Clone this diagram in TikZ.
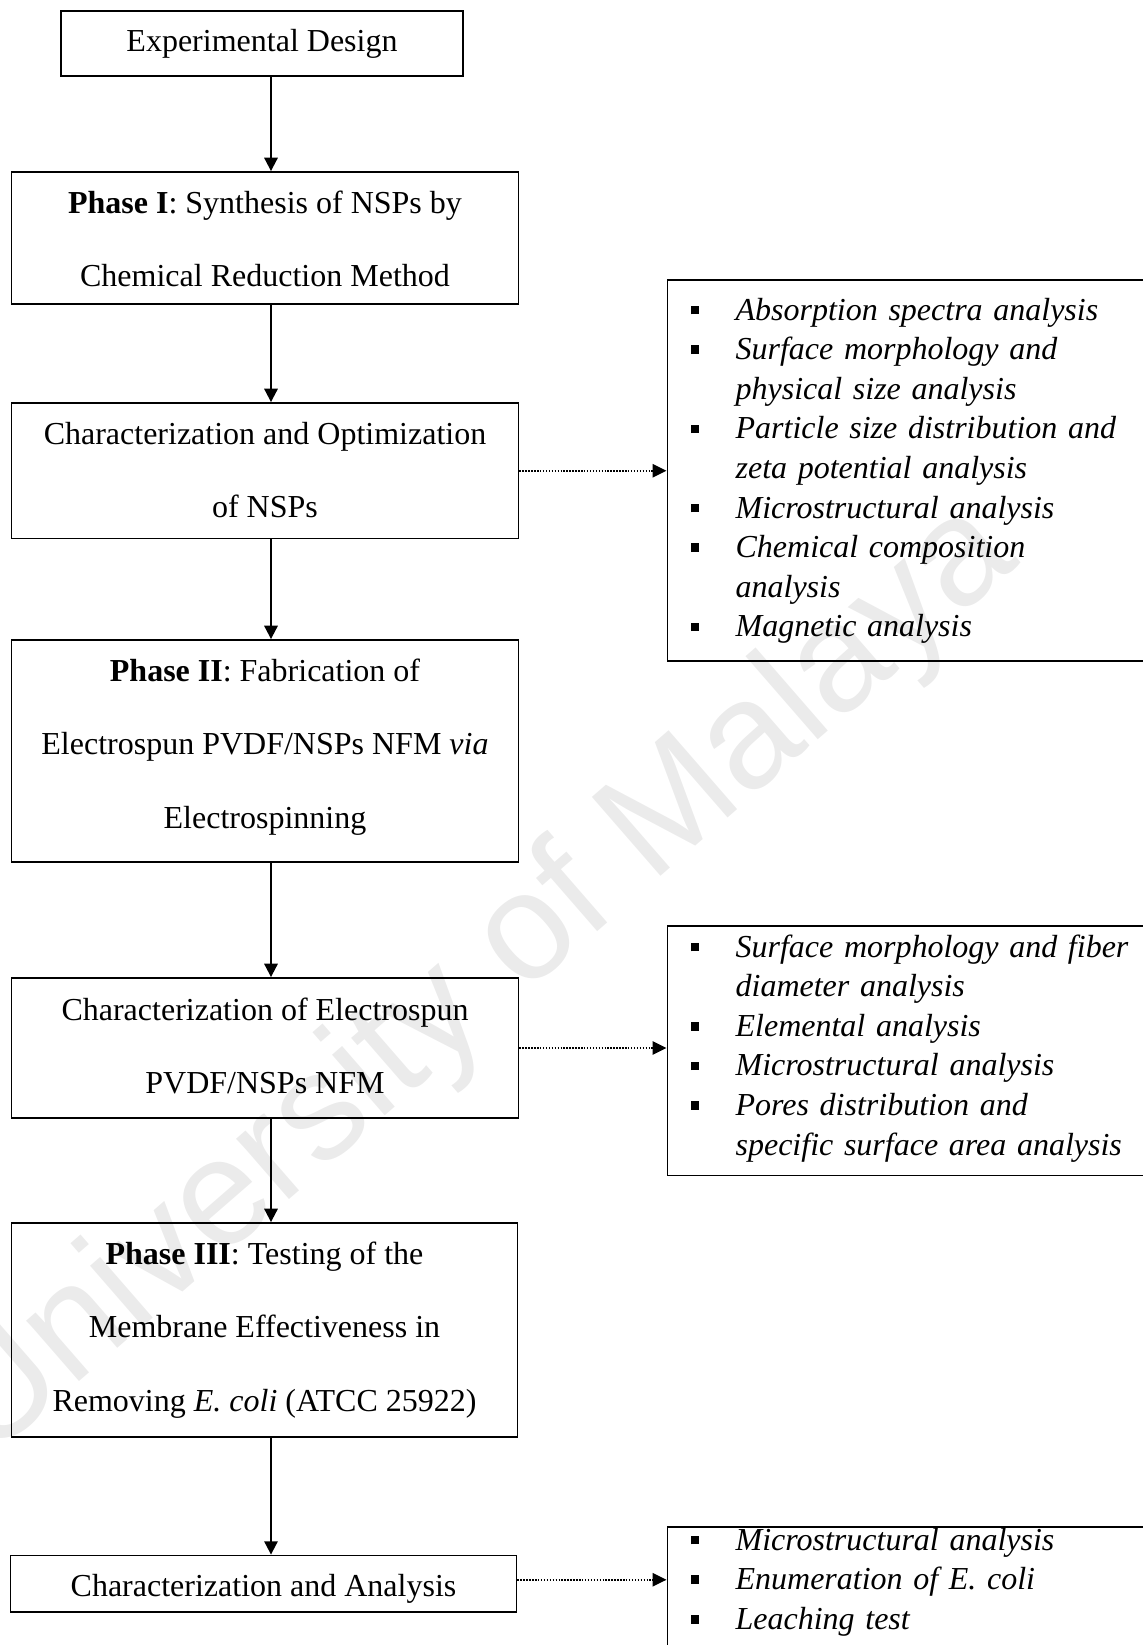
\documentclass[tikz,border=0pt]{standalone}
\usepackage{fontspec}
\setmainfont{Liberation Serif}
\newfontfamily\wmfont{Liberation Sans}
\usetikzlibrary{arrows.meta,fit,calc}
\newcommand\wbul{\makebox[16.9pt][l]{\raisebox{2.1pt}{\rule{3.2pt}{3.2pt}}}}
\newcommand\wind{\hspace*{16.9pt}}
\newcommand\boxtxt[1]{\begin{tabular}{@{}c@{}}#1\end{tabular}}
\begin{document}
\begin{tikzpicture}[x=0.375pt,y=-0.375pt,
  box/.style={draw, line width=0.7pt, inner sep=0pt},
  boxtext/.style={inner sep=0pt, anchor=center, font=\fontsize{12}{14.4}\selectfont},
  flow/.style={line width=0.75pt, -{Triangle[length=5pt,width=5pt]}},
  side/.style={line width=0.8pt, dash pattern=on 0.55pt off 0.55pt, -{Triangle[length=5.2pt,width=4.9pt]}},
  sidebox/.style={draw, line width=0.7pt, inner sep=0pt},
  list/.style={anchor=base west, inner sep=0pt, text width=200pt, align=left, font=\fontsize{12}{14.85}\selectfont\itshape}]
\useasboundingbox (0,0) rectangle (1143,1645);
\clip (0,0) rectangle (1143,1645);
% watermark
\node[rotate=41, anchor=base, text=black!8, font=\wmfont\fontsize{57}{57}\selectfont, inner sep=0pt] (wm) at (505,1012) {University of Malaya};
% main flow boxes
\node[box, fit={(61,11)(463,76)}] (ed) {};
\node[box, fit={(11.5,172)(518.5,304)}] (p1) {};
\node[box, fit={(11.5,403)(518.5,538.5)}] (co) {};
\node[box, fit={(11.5,640)(518.5,862)}] (p2) {};
\node[box, fit={(11.5,978)(518.5,1118)}] (ce) {};
\node[box, fit={(11.5,1223)(517.5,1437)}] (p3) {};
\node[box, fit={(10.5,1555.5)(516.5,1612)}] (ca) {};
\node[boxtext] (edt) at (ed.center) {\boxtxt{Experimental Design}};
\node[boxtext, yshift=-1.5pt] (p1t) at (p1.center) {\boxtxt{\textbf{Phase I}: Synthesis of NSPs by\\[13.1pt]Chemical Reduction Method}};
\node[boxtext, yshift=-1pt] (cot) at (co.center) {\boxtxt{Characterization and Optimization\\[13.1pt]of NSPs}};
\node[boxtext, yshift=1.5pt] (p2t) at (p2.center) {\boxtxt{\textbf{Phase II}: Fabrication of\\[13.1pt]Electrospun PVDF/NSPs NFM \textit{via}\\[13.1pt]Electrospinning}};
\node[boxtext, yshift=-0.5pt] (cet) at (ce.center) {\boxtxt{Characterization of Electrospun\\[13.1pt]PVDF/NSPs NFM}};
\node[boxtext] (p3t) at (p3.center) {\boxtxt{\textbf{Phase III}: Testing of the\\[13.1pt]Membrane Effectiveness in\\[13.1pt]Removing \textit{E. coli} (ATCC 25922)}};
\node[boxtext, yshift=-1.8pt] (cat) at (ca.center) {\boxtxt{Characterization and Analysis}};
% side boxes
\node[sidebox, fit={(667.5,280)(1160,661)}] (r1) {};
\node[sidebox, fit={(667.5,925.7)(1160,1175.5)}] (r2) {};
\node[sidebox, fit={(667.5,1527)(1160,1690)}] (r3) {};
\node[list] (l1) at (690,320) {\wbul Absorption spectra analysis\\
\wbul Surface morphology and\\
\wind physical size analysis\\
\wbul Particle size distribution and\\
\wind zeta potential analysis\\
\wbul Microstructural analysis\\
\wbul Chemical composition\\
\wind analysis\\
\wbul Magnetic analysis};
\node[list] (l2) at (690,957) {\wbul Surface morphology and fiber\\
\wind diameter analysis\\
\wbul Elemental analysis\\
\wbul Microstructural analysis\\
\wbul Pores distribution and\\
\wind specific surface area analysis};
\node[list] (l3) at (690,1550) {\wbul Microstructural analysis\\
\wbul Enumeration of E. coli\\
\wbul Leaching test};
% connectors
\coordinate (ax) at (271,0);
\draw[flow] (ed.south -| ax) -- (p1.north -| ax);
\draw[flow] (p1.south -| ax) -- (co.north -| ax);
\draw[flow] (co.south -| ax) -- (p2.north -| ax);
\draw[flow] (p2.south -| ax) -- (ce.north -| ax);
\draw[flow] (ce.south -| ax) -- (p3.north -| ax);
\draw[flow] (p3.south -| ax) -- (ca.north -| ax);
\draw[side] (co.east) -- (co.east -| r1.west);
\draw[side] (ce.east) -- (ce.east -| r2.west);
\draw[side] ([yshift=1.5pt]ca.east) -- ([yshift=1.5pt]ca.east -| r3.west);
\end{tikzpicture}
\end{document}
